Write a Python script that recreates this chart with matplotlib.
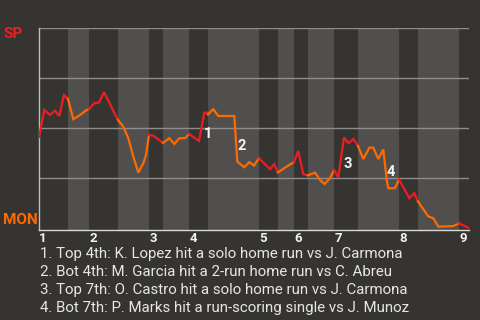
import matplotlib
matplotlib.use("Agg")
import matplotlib.pyplot as plt
from matplotlib.transforms import ScaledTranslation
import numpy as np

# ---- data ----
# game progress (0-100) and SP win probability at each plate appearance
progress = [0, 1.23, 2.56, 3.72, 4.72, 5.81, 6.74,
            7.98, 9.53, 11.09, 11.63,
            12.86, 13.95, 15.12, 18.37,
            19.6, 20.77, 21.93, 23.09, 24.26, 24.88, 25.58,
            26.58, 28.84,
            30.3, 31.47, 32.63, 33.95, 34.88,
            37.21, 38.44, 39.0, 39.3,
            40.53, 41.7, 45.42, 46.12, 47.74, 48.91, 50.0, 51.16,
            53.72, 54.72, 55.58,
            57.6, 59.3,
            60.3, 61.47, 62.56,
            64.19, 65.35, 66.4, 67.67, 68.6,
            69.6, 70.93, 71.98, 73.14, 74.19,
            75.42, 76.86, 77.74, 78.91, 80.07, 80.86, 81.23, 82.79, 83.72,
            86.12, 87.28, 88.14,
            90.53, 91.7, 92.86, 96.28, 97.67,
            98.53, 100.0]
sp_win_prob = [0.455, 0.59, 0.565, 0.587, 0.56, 0.665, 0.645,
               0.544, 0.565, 0.59, 0.595,
               0.624, 0.627, 0.679, 0.54,
               0.507, 0.449, 0.357, 0.277, 0.324, 0.365, 0.465,
               0.462, 0.425,
               0.449, 0.42, 0.449, 0.449, 0.47,
               0.435, 0.577, 0.577, 0.568,
               0.594, 0.56, 0.56, 0.332, 0.304, 0.329, 0.312, 0.349,
               0.294, 0.319, 0.278,
               0.307, 0.33,
               0.385, 0.269, 0.263,
               0.277, 0.24, 0.22, 0.249, 0.29,
               0.253, 0.453, 0.424, 0.445, 0.41,
               0.345, 0.402, 0.402, 0.345, 0.393, 0.24, 0.199, 0.199, 0.243,
               0.149, 0.174, 0.133,
               0.058, 0.049, 0.007, 0.009, 0.023,
               0.015, 0.0]
# half-inning boundaries (progress units): top1, bot1, top2, ...
half_starts = [0, 6.74, 11.63, 18.37, 25.58, 28.84, 34.88, 39.3, 51.16,
               55.58, 59.3, 62.56, 68.6, 74.19, 83.72, 88.14, 97.67, 100.0]
inning_labels = ["1", "2", "3", "4", "5", "6", "7", "8", "9"]
event_index = [30, 36, 55, 64]
event_labels = ["1", "2", "3", "4"]
event_notes = [
    "1. Top 4th: K. Lopez hit a solo home run vs J. Carmona",
    "2. Bot 4th: M. Garcia hit a 2-run home run vs C. Abreu",
    "3. Top 7th: O. Castro hit a solo home run vs J. Carmona",
    "4. Bot 7th: P. Marks hit a run-scoring single vs J. Munoz",
]
team_top = "SP"
team_bottom = "MON"

# ---- style ----
BG = "#363430"
BAND = "#504f4d"
RED = "#ee1c25"
ORANGE = "#ff6a00"
GRID = "#8e8d8b"
TXT = "#e6e6e6"
FONT = "Roboto"

W, H = 480, 320
fig = plt.figure(figsize=(4.8, 3.2), dpi=100, facecolor=BG)
ax = fig.add_axes([39 / W, 1 - 230 / H, 430 / W, 202 / H], facecolor=BG)

x = np.array(progress)
y = np.array(sp_win_prob)

# shaded bottom halves
for i in range(1, len(half_starts) - 1, 2):
    ax.axvspan(half_starts[i], half_starts[i + 1], color=BAND, lw=0, zorder=0)

for gy in [0.25, 0.5, 0.75, 1.0]:
    ax.axhline(gy, color=GRID, lw=1.0, zorder=1)

# win probability line, coloured by batting team
for i in range(len(half_starts) - 1):
    a, b = half_starts[i], half_starts[i + 1]
    m = (x >= a - 1e-9) & (x <= b + 1e-9)
    ax.plot(x[m], y[m], color=RED if i % 2 == 0 else ORANGE, lw=1.6,
            solid_joinstyle="miter", zorder=3)

# event labels
for idx, lab in zip(event_index, event_labels):
    mx = (x[idx - 1] + x[idx]) / 2
    my = (y[idx - 1] + y[idx]) / 2
    ax.annotate(lab, (mx, my), xytext=(4.5, -5), textcoords="offset points",
                ha="center", va="center", color="#f4f4f4", fontsize=10.5,
                fontweight="bold", family=FONT, zorder=4)

ax.set_xlim(0, 100)
ax.set_ylim(-0.01, 1.0)
for s in ["top", "right"]:
    ax.spines[s].set_visible(False)
ax.spines["left"].set_color("#bdbdbd")
ax.spines["bottom"].set_color("#d8d8d8")
ax.spines["left"].set_linewidth(1.0)
ax.spines["bottom"].set_linewidth(1.0)
ax.set_yticks([])
ax.set_xticks(half_starts[0:-1:2])
ax.set_xticklabels(inning_labels, family=FONT, fontweight="bold",
                   fontsize=9.5, color="#f2f2f2")
ax.tick_params(axis="x", length=0, pad=1.5)
shift = ScaledTranslation(4 / 100, 0, fig.dpi_scale_trans)
for lab in ax.get_xticklabels():
    lab.set_transform(lab.get_transform() + shift)

fig.text(3 / W, 1 - 34 / H, team_top, color=RED, fontsize=11,
         fontweight="bold", family=FONT, ha="left", va="center")
fig.text(3 / W, 1 - 220 / H, team_bottom, color=ORANGE, fontsize=11,
         fontweight="bold", family=FONT, ha="left", va="center")

for k, note in enumerate(event_notes):
    fig.text(39.5 / W, 1 - (258.3 + 18 * k) / H, note, color=TXT,
             fontsize=10.8, family=FONT, ha="left", va="baseline")

fig.savefig("out.png", dpi=100, facecolor=BG)
